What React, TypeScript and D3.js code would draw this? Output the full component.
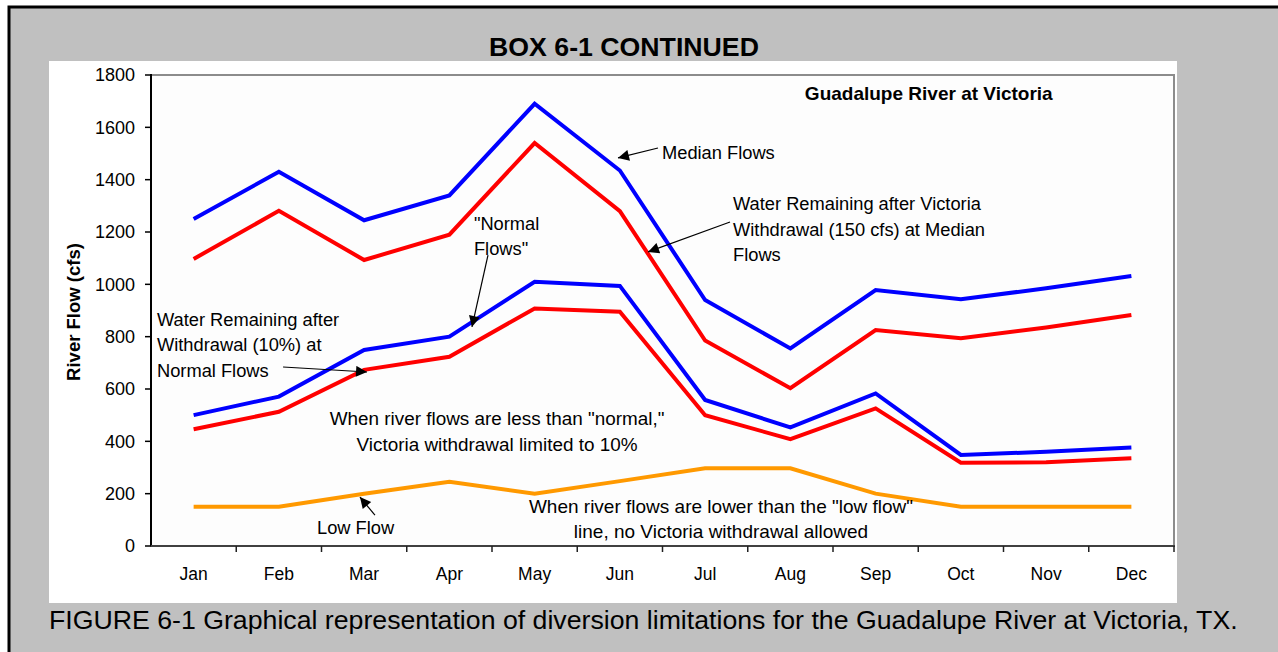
import React from "react";
import { scaleLinear, line } from "d3";

// monthly flows (cfs)
const months = ["Jan", "Feb", "Mar", "Apr", "May", "Jun", "Jul", "Aug", "Sep", "Oct", "Nov", "Dec"];
const medianFlows = [1250, 1430, 1245, 1340, 1690, 1435, 940, 755, 978, 943, 985, 1032];
const medianRemaining = [1097, 1281, 1093, 1190, 1540, 1280, 785, 603, 825, 794, 835, 883];
const normalFlows = [500, 571, 749, 800, 1010, 994, 558, 453, 583, 348, 360, 376];
const normalRemaining = [446, 513, 673, 723, 908, 895, 500, 408, 526, 318, 320, 335];
const lowFlow = [150, 150, 200, 245, 200, 248, 297, 297, 200, 150, 150, 150];
const yTicks = [0, 200, 400, 600, 800, 1000, 1200, 1400, 1600, 1800];

const series = [
  { name: "Median Flows", values: medianFlows, color: "#0000FF" },
  { name: "Median Remaining", values: medianRemaining, color: "#FF0000" },
  { name: "Normal Flows", values: normalFlows, color: "#0000FF" },
  { name: "Normal Remaining", values: normalRemaining, color: "#FF0000" },
  { name: "Low Flow", values: lowFlow, color: "#FF9900" },
];

// annotation text, anchored in data space (month index, cfs)
const notes = [
  { lines: ["Median Flows"], i: 5.494, v: 1479, anchor: "start", size: 18.3 },
  { lines: ["Water Remaining after Victoria", "Withdrawal (150 cfs) at Median", "Flows"], i: 6.327, v: 1284, anchor: "start", size: 18.3 },
  { lines: ["\"Normal", "Flows\""], i: 3.288, v: 1208, anchor: "start", size: 18.3 },
  { lines: ["Water Remaining after", "Withdrawal (10%) at", "Normal Flows"], i: -0.43, v: 841, anchor: "start", size: 18.3 },
  { lines: ["When river flows are less than \"normal,\"", "Victoria withdrawal limited to 10%"], i: 3.559, v: 462, anchor: "middle", size: 18.9 },
  { lines: ["Low Flow"], i: 1.447, v: 46, anchor: "start", size: 18.3 },
  { lines: ["When river flows are lower than the \"low flow\"", "line, no Victoria withdrawal allowed"], i: 6.186, v: 127, anchor: "middle", size: 19 },
];

// arrows: tail -> tip
const arrows = [
  { from: [5.447, 1521], to: [4.978, 1483] },
  { from: [6.292, 1238], to: [5.33, 1124] },
  { from: [3.453, 1112], to: [3.265, 837] },
  { from: [1.049, 684], to: [2.034, 665] },
  { from: [2.127, 118], to: [1.951, 187] },
];

const W = 1278;
const H = 652;
const font = "'Liberation Sans', Arial, Helvetica, sans-serif";

export default function App() {
  const left = 151, right = 1174, top = 75, bottom = 546;
  const band = (right - left) / months.length;

  const x = scaleLinear().domain([-0.5, months.length - 0.5]).range([left, right]);
  const y = scaleLinear().domain([0, 1800]).range([bottom, top]);

  const path = line<number>()
    .x((d, i) => x(i))
    .y((d) => y(d));

  return (
    <svg width={W} height={H} style={{ position: "absolute", left: 0, top: 0, display: "block" }} fontFamily={font}>
      <defs>
        <marker id="head" viewBox="0 0 10 10" refX="10" refY="5" markerWidth="15" markerHeight="11"
          markerUnits="userSpaceOnUse" orient="auto">
          <path d="M0,0 L10,5 L0,10 z" fill="#000" />
        </marker>
      </defs>

      {/* frame */}
      <rect x={9} y={7} width={W + 10} height={H + 10} fill="#C0C0C0" stroke="#000" strokeWidth={3} />
      <text x={624} y={56} textAnchor="middle" fontSize={26.7} fontWeight="bold">BOX 6-1 CONTINUED</text>

      {/* chart area */}
      <rect x={49} y={61} width={1128} height={542} fill="#FFFFFF" />
      <rect x={left} y={top} width={right - left} height={bottom - top} fill="#FDFDFD" stroke="#8C8C8C" strokeWidth={2} />

      {/* y axis */}
      <line x1={left} x2={left} y1={top - 1} y2={bottom} stroke="#000" strokeWidth={2} />
      {yTicks.map((t) => (
        <g key={t}>
          <line x1={left - 6} x2={left} y1={y(t)} y2={y(t)} stroke="#000" strokeWidth={1.5} />
          <text x={135} y={y(t)} dy="0.35em" textAnchor="end" fontSize={18}>{t}</text>
        </g>
      ))}
      <text transform={`translate(80,312) rotate(-90)`} textAnchor="middle" fontSize={18.5} fontWeight="bold">River Flow (cfs)</text>

      {/* x axis */}
      <line x1={left} x2={right + 1} y1={bottom} y2={bottom} stroke="#404040" strokeWidth={2} />
      {months.map((m, i) => (
        <g key={m}>
          <line x1={left + band * (i + 1)} x2={left + band * (i + 1)} y1={bottom} y2={bottom + 6} stroke="#202020" strokeWidth={1.5} />
          <text x={x(i)} y={580} textAnchor="middle" fontSize={17.5}>{m}</text>
        </g>
      ))}

      {/* series */}
      {series.map((s) => (
        <path key={s.name} d={path(s.values) || ""} fill="none" stroke={s.color} strokeWidth={4} />
      ))}

      {/* annotations */}
      <text x={x(7.17)} y={y(1705)} fontSize={19} fontWeight="bold">Guadalupe River at Victoria</text>
      {notes.map((n, k) => (
        <text key={k} x={x(n.i)} y={y(n.v)} textAnchor={n.anchor} fontSize={n.size}>
          {n.lines.map((l, j) => (
            <tspan key={j} x={x(n.i)} dy={j === 0 ? 0 : 25.5}>{l}</tspan>
          ))}
        </text>
      ))}
      {arrows.map((a, k) => (
        <line key={k} x1={x(a.from[0])} y1={y(a.from[1])} x2={x(a.to[0])} y2={y(a.to[1])}
          stroke="#000" strokeWidth={1.2} markerEnd="url(#head)" />
      ))}

      <text x={49} y={629} fontSize={26.7}>
        FIGURE 6-1 Graphical representation of diversion limitations for the Guadalupe River at Victoria, TX.
      </text>
    </svg>
  );
}
